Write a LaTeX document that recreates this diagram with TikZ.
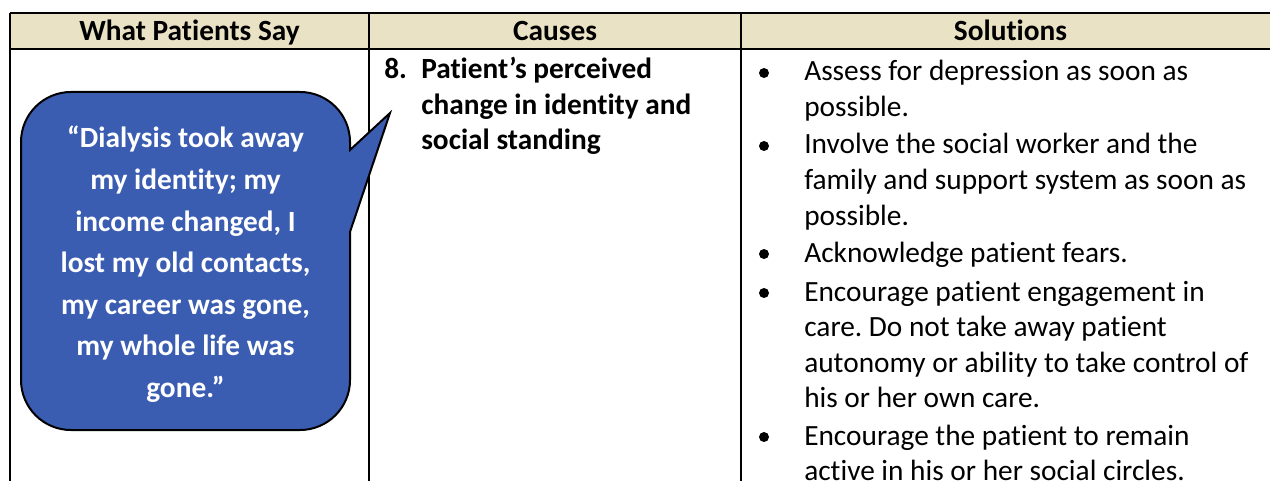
\documentclass[tikz,border=0pt]{standalone}
\usepackage{fontspec}
\setmainfont{Carlito}[Ligatures={NoCommon}]
\frenchspacing
\definecolor{hdrfill}{RGB}{234,226,196}
\definecolor{bubblefill}{RGB}{58,93,178}
\begin{document}
\begin{tikzpicture}[x=0.75pt,y=-0.75pt,
  grid/.style={line width=1.1pt, draw=black},
  hdr/.style={font=\fontsize{22pt}{26pt}\selectfont\bfseries, anchor=base, inner sep=0pt},
  body/.style={font=\fontsize{22pt}{26pt}\selectfont, anchor=base west, inner sep=0pt},
  cause/.style={font=\fontsize{22pt}{26pt}\selectfont\bfseries, anchor=base west, inner sep=0pt},
  quoteline/.style={font=\fontsize{22pt}{26pt}\selectfont\bfseries, text=white, anchor=base, inner sep=0pt},
  dot/.style={circle, fill=black, inner sep=0pt, minimum size=7.5pt},
  bubble/.style={fill=bubblefill, draw=black, line width=1.5pt, line join=miter}
]
\useasboundingbox (0,0) rectangle (1270,481);
\clip (0,0) rectangle (1270,481);
% header band
\fill[hdrfill] (10,13) rectangle (1300,49);
\draw[grid] (10,13) -- (1300,13);
\draw[grid] (10,49) -- (1300,49);
\draw[grid] (10,13) -- (10,500);
\draw[grid] (369,13) -- (369,500);
\draw[grid] (741,13) -- (741,500);
% header texts
\node[hdr] (h1) at (189.5,41) {What Patients Say};
\node[hdr] (h2) at (555,41) {Causes};
\node[hdr] (h3) at (1010.5,41) {Solutions};
% causes
\node[cause] (c0) at (384,79) {8.};
\node[cause] (c1) at (421,79) {Patient’s perceived};
\node[cause] (c2) at (421,114.5) {change in identity and};
\node[cause] (c3) at (421,150) {social standing};
% speech bubble
\draw[bubble] (390,113) -- (350,232) -- (350,380)
  arc[start angle=0,end angle=90,radius=50] -- (71,430)
  arc[start angle=90,end angle=180,radius=50] -- (21,142)
  arc[start angle=180,end angle=270,radius=50] -- (300,92)
  arc[start angle=270,end angle=360,radius=50] -- (350,150) -- cycle;
\node[quoteline] (q1) at (185.5,148) {“Dialysis took away};
\node[quoteline] (q2) at (185.5,189.5) {my identity; my};
\node[quoteline] (q3) at (185.5,231) {income changed, I};
\node[quoteline] (q4) at (185.5,272.5) {lost my old contacts,};
\node[quoteline] (q5) at (185.5,314) {my career was gone,};
\node[quoteline] (q6) at (185.5,355.5) {my whole life was};
\node[quoteline] (q7) at (185.5,397) {gone.”};
% solutions
\node[dot] (b1) at (764,73) {};
\node[body] (s1a) at (804,81) {Assess for depression as soon as};
\node[body] (s1b) at (804,116.5) {possible.};
\node[dot] (b2) at (764,146) {};
\node[body] (s2a) at (804,154) {Involve the social worker and the};
\node[body] (s2b) at (804,189.5) {family and support system as soon as};
\node[body] (s2c) at (804,225) {possible.};
\node[dot] (b3) at (764,254) {};
\node[body] (s3a) at (804,262) {Acknowledge patient fears.};
\node[dot] (b4) at (764,293) {};
\node[body] (s4a) at (804,301) {Encourage patient engagement in};
\node[body] (s4b) at (804,336.5) {care. Do not take away patient};
\node[body] (s4c) at (804,372) {autonomy or ability to take control of};
\node[body] (s4d) at (804,407.5) {his or her own care.};
\node[dot] (b5) at (764,437) {};
\node[body] (s5a) at (804,445) {Encourage the patient to remain};
\node[body] (s5b) at (804,480.5) {active in his or her social circles.};
\end{tikzpicture}
\end{document}
